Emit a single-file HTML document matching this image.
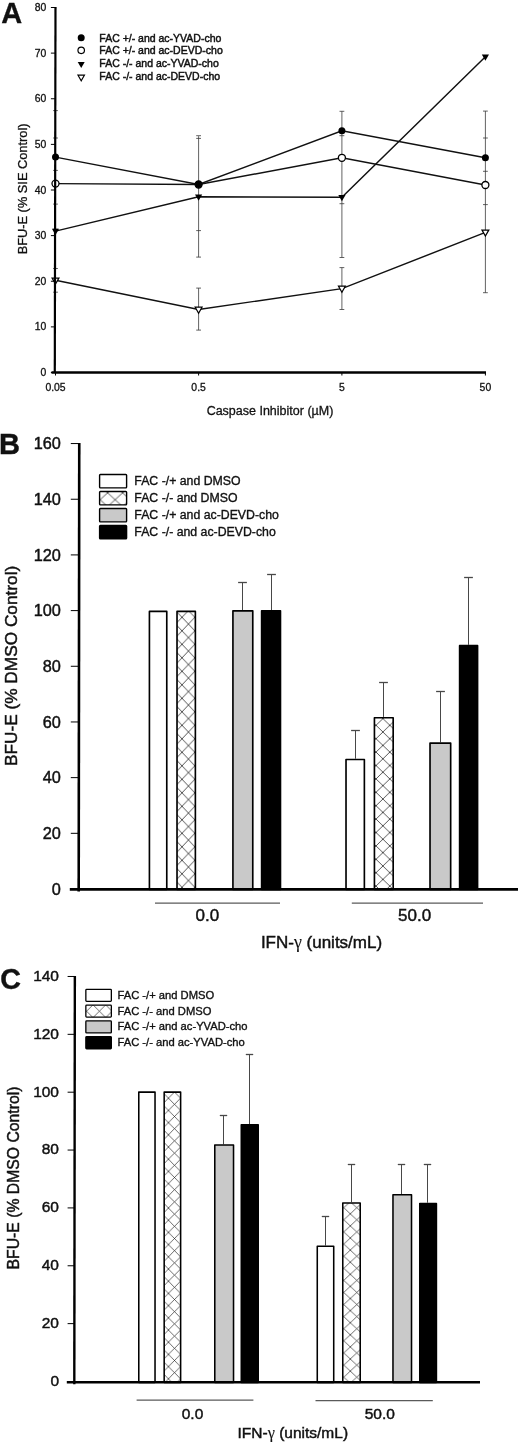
<!DOCTYPE html>
<html><head><meta charset="utf-8"><title>Figure</title>
<style>html,body{margin:0;padding:0;background:#fff}svg{display:block;will-change:transform}text{font-family:"Liberation Sans",sans-serif;fill:#111;stroke:#111;stroke-width:0.3px}.big text{stroke-width:0.45px}</style></head><body>
<svg width="520" height="1444" viewBox="0 0 520 1444">
<rect width="520" height="1444" fill="#fff"/>
<g id="panelA">
<text x="1.2" y="23.1" font-size="29" font-weight="bold" fill="#000" stroke="#000" stroke-width="0.4">A</text>
<path d="M55.5 292.2V110.6M53.1 110.6h4.8M53.1 138.0h4.8M53.1 170.4h4.8M53.1 204.1h4.8M53.1 229.2h4.8M53.1 268.5h4.8M53.1 292.2h4.8" stroke="#3a3a3a" stroke-width="0.8" fill="none"/>
<path d="M198.6 257.1V136.2M196.2 135.7h4.8M196.2 138.4h4.8M196.2 230.6h4.8M196.2 257.1h4.8" stroke="#3a3a3a" stroke-width="0.8" fill="none"/>
<path d="M198.6 330.1V288.1M196.2 288.1h4.8M196.2 330.1h4.8" stroke="#3a3a3a" stroke-width="0.8" fill="none"/>
<path d="M341.9 257.5V111.3M339.5 111.3h4.8M339.5 135.7h4.8M339.5 203.7h4.8M339.5 257.5h4.8" stroke="#3a3a3a" stroke-width="0.8" fill="none"/>
<path d="M341.9 309.5V267.6M339.5 267.6h4.8M339.5 309.5h4.8" stroke="#3a3a3a" stroke-width="0.8" fill="none"/>
<path d="M485.4 292.7V111.1M483.0 111.1h4.8M483.0 138.0h4.8M483.0 171.3h4.8M483.0 204.6h4.8M483.0 232.0h4.8M483.0 292.7h4.8" stroke="#3a3a3a" stroke-width="0.8" fill="none"/>
<path d="M51.5 372.5H486" stroke="#000" stroke-width="2.4" fill="none"/>
<path d="M50.9 372.50h4.6" stroke="#000" stroke-width="1"/>
<text x="46.3" y="376.10" font-size="10.4" text-anchor="end">0</text>
<path d="M50.9 326.88h4.6" stroke="#000" stroke-width="1"/>
<text x="46.3" y="330.48" font-size="10.4" text-anchor="end">10</text>
<path d="M50.9 281.25h4.6" stroke="#000" stroke-width="1"/>
<text x="46.3" y="284.85" font-size="10.4" text-anchor="end">20</text>
<path d="M50.9 235.62h4.6" stroke="#000" stroke-width="1"/>
<text x="46.3" y="239.22" font-size="10.4" text-anchor="end">30</text>
<path d="M50.9 190.00h4.6" stroke="#000" stroke-width="1"/>
<text x="46.3" y="193.60" font-size="10.4" text-anchor="end">40</text>
<path d="M50.9 144.38h4.6" stroke="#000" stroke-width="1"/>
<text x="46.3" y="147.97" font-size="10.4" text-anchor="end">50</text>
<path d="M50.9 98.75h4.6" stroke="#000" stroke-width="1"/>
<text x="46.3" y="102.35" font-size="10.4" text-anchor="end">60</text>
<path d="M50.9 53.12h4.6" stroke="#000" stroke-width="1"/>
<text x="46.3" y="56.73" font-size="10.4" text-anchor="end">70</text>
<path d="M50.9 7.50h4.6" stroke="#000" stroke-width="1"/>
<text x="46.3" y="11.10" font-size="10.4" text-anchor="end">80</text>
<path d="M55.5 372.5v3" stroke="#000" stroke-width="1"/>
<text x="55.5" y="390.7" font-size="10.4" text-anchor="middle">0.05</text>
<path d="M198.6 372.5v3" stroke="#000" stroke-width="1"/>
<text x="198.6" y="390.7" font-size="10.4" text-anchor="middle">0.5</text>
<path d="M341.9 372.5v3" stroke="#000" stroke-width="1"/>
<text x="341.9" y="390.7" font-size="10.4" text-anchor="middle">5</text>
<path d="M485.4 372.5v3" stroke="#000" stroke-width="1"/>
<text x="485.4" y="390.7" font-size="10.4" text-anchor="middle">50</text>
<text x="270" y="415" font-size="12.5" text-anchor="middle">Caspase Inhibitor (µM)</text>
<text transform="translate(26.8,188.9) rotate(-90)" font-size="12.8" text-anchor="middle">BFU-E (% SIE Control)</text>
<polyline points="55.5,157.1 198.6,184.5 341.9,130.7 485.4,157.8" stroke="#111" stroke-width="1.45" fill="none"/>
<polyline points="55.5,183.6 198.6,184.5 341.9,157.8 485.4,185.0" stroke="#111" stroke-width="1.45" fill="none"/>
<polyline points="55.5,231.1 198.6,196.8 341.9,197.3 485.4,56.8" stroke="#111" stroke-width="1.45" fill="none"/>
<polyline points="55.5,280.3 198.6,309.5 341.9,288.6 485.4,232.4" stroke="#111" stroke-width="1.45" fill="none"/>
<circle cx="55.5" cy="183.6" r="3.5" fill="#fff" stroke="#000" stroke-width="1.3"/>
<circle cx="198.6" cy="184.5" r="3.5" fill="#fff" stroke="#000" stroke-width="1.3"/>
<circle cx="341.9" cy="157.8" r="3.5" fill="#fff" stroke="#000" stroke-width="1.3"/>
<circle cx="485.4" cy="185.0" r="3.5" fill="#fff" stroke="#000" stroke-width="1.3"/>
<circle cx="55.5" cy="157.1" r="3.5" fill="#000"/>
<circle cx="198.6" cy="184.5" r="3.5" fill="#000"/>
<circle cx="341.9" cy="130.7" r="3.5" fill="#000"/>
<circle cx="485.4" cy="157.8" r="3.5" fill="#000"/>
<path d="M51.9 228.7h7.2l-3.6 6.4z" fill="#000"/>
<path d="M195.0 194.4h7.2l-3.6 6.4z" fill="#000"/>
<path d="M338.29999999999995 194.9h7.2l-3.6 6.4z" fill="#000"/>
<path d="M481.79999999999995 54.4h7.2l-3.6 6.4z" fill="#000"/>
<path d="M52.1 278.0h6.8l-3.4 6z" fill="#fff" stroke="#000" stroke-width="1.25"/>
<path d="M195.2 307.2h6.8l-3.4 6z" fill="#fff" stroke="#000" stroke-width="1.25"/>
<path d="M338.5 286.2h6.8l-3.4 6z" fill="#fff" stroke="#000" stroke-width="1.25"/>
<path d="M482.0 230.1h6.8l-3.4 6z" fill="#fff" stroke="#000" stroke-width="1.25"/>
<path d="M55.5 7.0L54.8 372.5" stroke="#000" stroke-width="2.2" fill="none"/>
<circle cx="81.2" cy="37.85" r="3.5" fill="#000"/>
<circle cx="81.2" cy="50.3" r="3.25" fill="#fff" stroke="#000" stroke-width="1.2"/>
<path d="M77.7 61.9h7l-3.5 6.2z" fill="#000"/>
<path d="M78.0 75.2h6.4l-3.2 5.6z" fill="#fff" stroke="#000" stroke-width="1.2"/>
<text x="99.3" y="41.6" font-size="10.5" style="stroke-width:0.45px">FAC +/- and ac-YVAD-cho</text>
<text x="99.3" y="54.3" font-size="10.5" style="stroke-width:0.45px">FAC +/- and ac-DEVD-cho</text>
<text x="99.3" y="67.0" font-size="10.5" style="stroke-width:0.45px">FAC -/- and ac-YVAD-cho</text>
<text x="99.3" y="80.2" font-size="10.5" style="stroke-width:0.45px">FAC -/- and ac-DEVD-cho</text>
</g>
<g id="pB" class="big">
<text x="-1.0" y="454.3" font-size="29" font-weight="bold" fill="#000" stroke="#000" stroke-width="0.4">B</text>
<path d="M242.50 610.0V582.5" stroke="#484848" stroke-width="1.05" fill="none"/>
<path d="M238.10 582.5h8.8" stroke="#484848" stroke-width="1.3" fill="none"/>
<path d="M271.50 610.0V574.5" stroke="#484848" stroke-width="1.05" fill="none"/>
<path d="M267.10 574.5h8.8" stroke="#484848" stroke-width="1.3" fill="none"/>
<path d="M355.50 758.7V730.5" stroke="#484848" stroke-width="1.05" fill="none"/>
<path d="M351.10 730.5h8.8" stroke="#484848" stroke-width="1.3" fill="none"/>
<path d="M383.50 716.9V682.5" stroke="#484848" stroke-width="1.05" fill="none"/>
<path d="M379.10 682.5h8.8" stroke="#484848" stroke-width="1.3" fill="none"/>
<path d="M440.50 742.3V691.5" stroke="#484848" stroke-width="1.05" fill="none"/>
<path d="M436.10 691.5h8.8" stroke="#484848" stroke-width="1.3" fill="none"/>
<path d="M468.50 644.8V577.5" stroke="#484848" stroke-width="1.05" fill="none"/>
<path d="M464.10 577.5h8.8" stroke="#484848" stroke-width="1.3" fill="none"/>
<rect x="149.42" y="611.43" width="17.35" height="277.97" fill="#fff" stroke="#000" stroke-width="1.65" stroke-linejoin="round"/>
<pattern id="pBh1" x="182.0" y="617.3" width="12.8" height="13.5" patternUnits="userSpaceOnUse"><rect width="12.8" height="13.5" fill="#fff"/><path d="M0 0L12.8 13.5M12.8 0L0 13.5" stroke="#1c1c1c" stroke-width="0.75" fill="none"/></pattern>
<rect x="177.02" y="611.43" width="18.35" height="277.97" fill="url(#pBh1)" stroke="#000" stroke-width="1.65" stroke-linejoin="round"/>
<rect x="232.92" y="610.87" width="19.85" height="278.53" fill="#c9c9c9" stroke="#000" stroke-width="1.65" stroke-linejoin="round"/>
<rect x="261.62" y="610.87" width="18.85" height="278.53" fill="#000" stroke="#000" stroke-width="1.65" stroke-linejoin="round"/>
<rect x="346.02" y="759.53" width="18.35" height="129.87" fill="#fff" stroke="#000" stroke-width="1.65" stroke-linejoin="round"/>
<pattern id="pBh2" x="382.9" y="732.0" width="13.8" height="13.4" patternUnits="userSpaceOnUse"><rect width="13.8" height="13.4" fill="#fff"/><path d="M0 0L13.8 13.4M13.8 0L0 13.4" stroke="#1c1c1c" stroke-width="0.75" fill="none"/></pattern>
<rect x="374.43" y="717.77" width="18.75" height="171.63" fill="url(#pBh2)" stroke="#000" stroke-width="1.65" stroke-linejoin="round"/>
<rect x="430.02" y="743.11" width="20.65" height="146.29" fill="#c9c9c9" stroke="#000" stroke-width="1.65" stroke-linejoin="round"/>
<rect x="459.62" y="645.67" width="17.95" height="243.73" fill="#000" stroke="#000" stroke-width="1.65" stroke-linejoin="round"/>
<path d="M79.25 443.1L78.7 891.4" stroke="#000" stroke-width="2.6" fill="none"/>
<path d="M69.8 889.4H518" stroke="#000" stroke-width="2.9" fill="none"/>
<path d="M70.8 889.00h8.2" stroke="#000" stroke-width="1"/>
<text x="60.8" y="894.80" font-size="16.3" text-anchor="end">0</text>
<path d="M70.8 833.32h8.2" stroke="#000" stroke-width="1"/>
<text x="60.8" y="839.12" font-size="16.3" text-anchor="end">20</text>
<path d="M70.8 777.64h8.2" stroke="#000" stroke-width="1"/>
<text x="60.8" y="783.44" font-size="16.3" text-anchor="end">40</text>
<path d="M70.8 721.96h8.2" stroke="#000" stroke-width="1"/>
<text x="60.8" y="727.76" font-size="16.3" text-anchor="end">60</text>
<path d="M70.8 666.28h8.2" stroke="#000" stroke-width="1"/>
<text x="60.8" y="672.08" font-size="16.3" text-anchor="end">80</text>
<path d="M70.8 610.60h8.2" stroke="#000" stroke-width="1"/>
<text x="60.8" y="616.40" font-size="16.3" text-anchor="end">100</text>
<path d="M70.8 554.92h8.2" stroke="#000" stroke-width="1"/>
<text x="60.8" y="560.72" font-size="16.3" text-anchor="end">120</text>
<path d="M70.8 499.24h8.2" stroke="#000" stroke-width="1"/>
<text x="60.8" y="505.04" font-size="16.3" text-anchor="end">140</text>
<path d="M70.8 443.56h8.2" stroke="#000" stroke-width="1"/>
<text x="60.8" y="449.36" font-size="16.3" text-anchor="end">160</text>
<path d="M155 903.1H280" stroke="#5a5a5a" stroke-width="1.25"/>
<text x="207.3" y="921.3" font-size="17" text-anchor="middle">0.0</text>
<path d="M351.8 903.1H483" stroke="#5a5a5a" stroke-width="1.25"/>
<text x="414.6" y="921.3" font-size="17" text-anchor="middle">50.0</text>
<text x="321.5" y="947.8" font-size="17" text-anchor="middle">IFN-<tspan font-family="Liberation Serif" font-size="17.9" style="stroke-width:0.1px">γ</tspan> (units/mL)</text>
<text transform="translate(16.9,665.9) rotate(-90)" font-size="17.25" text-anchor="middle">BFU-E (% DMSO Control)</text>
<rect x="99.60" y="474.50" width="27.00" height="13.40" rx="0.8" fill="#fff" stroke="#000" stroke-width="1.4"/>
<text x="134.3" y="484.7" font-size="12.3" style="stroke-width:0.35px">FAC -/+ and DMSO</text>
<pattern id="pBlg" x="107.6" y="492.8" width="15.0" height="13.8" patternUnits="userSpaceOnUse"><rect width="15.0" height="13.8" fill="#fff"/><path d="M0 0L15.0 13.8M15.0 0L0 13.8" stroke="#1c1c1c" stroke-width="0.75" fill="none"/></pattern>
<rect x="99.60" y="491.50" width="27.00" height="13.40" rx="0.8" fill="url(#pBlg)" stroke="#000" stroke-width="1.4"/>
<text x="134.3" y="501.7" font-size="12.3" style="stroke-width:0.35px">FAC -/- and DMSO</text>
<rect x="99.60" y="508.50" width="27.00" height="13.40" rx="0.8" fill="#c9c9c9" stroke="#000" stroke-width="1.4"/>
<text x="134.3" y="518.7" font-size="12.3" style="stroke-width:0.35px">FAC -/+ and ac-DEVD-cho</text>
<rect x="99.60" y="525.50" width="27.00" height="13.40" rx="0.8" fill="#000" stroke="#000" stroke-width="1.4"/>
<text x="134.3" y="535.7" font-size="12.3" style="stroke-width:0.35px">FAC -/- and ac-DEVD-cho</text>
</g>
<g id="pC" class="big">
<text x="0.3" y="988.6" font-size="28.6" font-weight="bold" fill="#000" stroke="#000" stroke-width="0.4">C</text>
<path d="M223.50 1144.3V1115.5" stroke="#484848" stroke-width="1.05" fill="none"/>
<path d="M219.80 1115.5h7.4" stroke="#484848" stroke-width="1.3" fill="none"/>
<path d="M249.50 1124.0V1054.5" stroke="#484848" stroke-width="1.05" fill="none"/>
<path d="M245.80 1054.5h7.4" stroke="#484848" stroke-width="1.3" fill="none"/>
<path d="M325.50 1245.5V1216.5" stroke="#484848" stroke-width="1.05" fill="none"/>
<path d="M321.80 1216.5h7.4" stroke="#484848" stroke-width="1.3" fill="none"/>
<path d="M351.50 1202.1V1164.5" stroke="#484848" stroke-width="1.05" fill="none"/>
<path d="M347.80 1164.5h7.4" stroke="#484848" stroke-width="1.3" fill="none"/>
<path d="M401.50 1194.0V1164.5" stroke="#484848" stroke-width="1.05" fill="none"/>
<path d="M397.80 1164.5h7.4" stroke="#484848" stroke-width="1.3" fill="none"/>
<path d="M427.50 1202.7V1164.5" stroke="#484848" stroke-width="1.05" fill="none"/>
<path d="M423.80 1164.5h7.4" stroke="#484848" stroke-width="1.3" fill="none"/>
<rect x="138.78" y="1092.11" width="16.25" height="290.24" fill="#fff" stroke="#000" stroke-width="1.55" stroke-linejoin="round"/>
<pattern id="pCh1" x="168.44" y="1098.2" width="12.1" height="12.2" patternUnits="userSpaceOnUse"><rect width="12.1" height="12.2" fill="#fff"/><path d="M0 0L12.1 12.2M12.1 0L0 12.2" stroke="#1c1c1c" stroke-width="0.66" fill="none"/></pattern>
<rect x="164.18" y="1092.11" width="16.45" height="290.24" fill="url(#pCh1)" stroke="#000" stroke-width="1.55" stroke-linejoin="round"/>
<rect x="214.78" y="1145.05" width="18.75" height="237.30" fill="#c9c9c9" stroke="#000" stroke-width="1.55" stroke-linejoin="round"/>
<rect x="241.28" y="1124.80" width="16.95" height="257.55" fill="#000" stroke="#000" stroke-width="1.55" stroke-linejoin="round"/>
<rect x="317.27" y="1246.30" width="16.45" height="136.05" fill="#fff" stroke="#000" stroke-width="1.55" stroke-linejoin="round"/>
<pattern id="pCh2" x="350.3" y="1213.8" width="13.0" height="12.1" patternUnits="userSpaceOnUse"><rect width="13.0" height="12.1" fill="#fff"/><path d="M0 0L13.0 12.1M13.0 0L0 12.1" stroke="#1c1c1c" stroke-width="0.66" fill="none"/></pattern>
<rect x="342.77" y="1202.91" width="17.45" height="179.44" fill="url(#pCh2)" stroke="#000" stroke-width="1.55" stroke-linejoin="round"/>
<rect x="392.97" y="1194.81" width="18.55" height="187.54" fill="#c9c9c9" stroke="#000" stroke-width="1.55" stroke-linejoin="round"/>
<rect x="419.77" y="1203.49" width="16.65" height="178.86" fill="#000" stroke="#000" stroke-width="1.55" stroke-linejoin="round"/>
<path d="M74.85 976.0L74.3 1384.35" stroke="#000" stroke-width="2.4" fill="none"/>
<path d="M66.8 1382.35H480" stroke="#000" stroke-width="2.5" fill="none"/>
<path d="M67.6 1381.50h7" stroke="#000" stroke-width="1"/>
<text x="58.99999999999999" y="1385.90" font-size="15.5" text-anchor="end">0</text>
<path d="M67.6 1323.64h7" stroke="#000" stroke-width="1"/>
<text x="58.99999999999999" y="1328.04" font-size="15.5" text-anchor="end">20</text>
<path d="M67.6 1265.78h7" stroke="#000" stroke-width="1"/>
<text x="58.99999999999999" y="1270.18" font-size="15.5" text-anchor="end">40</text>
<path d="M67.6 1207.92h7" stroke="#000" stroke-width="1"/>
<text x="58.99999999999999" y="1212.32" font-size="15.5" text-anchor="end">60</text>
<path d="M67.6 1150.06h7" stroke="#000" stroke-width="1"/>
<text x="58.99999999999999" y="1154.46" font-size="15.5" text-anchor="end">80</text>
<path d="M67.6 1092.20h7" stroke="#000" stroke-width="1"/>
<text x="58.99999999999999" y="1096.60" font-size="15.5" text-anchor="end">100</text>
<path d="M67.6 1034.34h7" stroke="#000" stroke-width="1"/>
<text x="58.99999999999999" y="1038.74" font-size="15.5" text-anchor="end">120</text>
<path d="M67.6 976.48h7" stroke="#000" stroke-width="1"/>
<text x="58.99999999999999" y="980.88" font-size="15.5" text-anchor="end">140</text>
<path d="M136.6 1400.0H253.4" stroke="#5a5a5a" stroke-width="1.25"/>
<text x="192.5" y="1418.8" font-size="15.5" text-anchor="middle">0.0</text>
<path d="M315.5 1400.6H432.8" stroke="#5a5a5a" stroke-width="1.25"/>
<text x="379.8" y="1418.7" font-size="15.5" text-anchor="middle">50.0</text>
<text x="292.8" y="1438.3" font-size="15.5" text-anchor="middle">IFN-<tspan font-family="Liberation Serif" font-size="16.3" style="stroke-width:0.1px">γ</tspan> (units/mL)</text>
<text transform="translate(19.0,1178) rotate(-90)" font-size="15.75" text-anchor="middle">BFU-E (% DMSO Control)</text>
<rect x="85.85" y="989.35" width="25.50" height="12.00" rx="0.8" fill="#fff" stroke="#000" stroke-width="1.3"/>
<text x="117.5" y="998.7" font-size="11.2" style="stroke-width:0.35px">FAC -/+ and DMSO</text>
<pattern id="pClg" x="93.0" y="1004.8" width="12.7" height="12.8" patternUnits="userSpaceOnUse"><rect width="12.7" height="12.8" fill="#fff"/><path d="M0 0L12.7 12.8M12.7 0L0 12.8" stroke="#1c1c1c" stroke-width="0.66" fill="none"/></pattern>
<rect x="85.85" y="1005.15" width="25.50" height="12.00" rx="0.8" fill="url(#pClg)" stroke="#000" stroke-width="1.3"/>
<text x="117.5" y="1014.5" font-size="11.2" style="stroke-width:0.35px">FAC -/- and DMSO</text>
<rect x="85.85" y="1020.95" width="25.50" height="12.00" rx="0.8" fill="#c9c9c9" stroke="#000" stroke-width="1.3"/>
<text x="117.5" y="1030.3" font-size="11.2" style="stroke-width:0.35px">FAC -/+ and ac-YVAD-cho</text>
<rect x="85.85" y="1036.75" width="25.50" height="12.00" rx="0.8" fill="#000" stroke="#000" stroke-width="1.3"/>
<text x="117.5" y="1046.1" font-size="11.2" style="stroke-width:0.35px">FAC -/- and ac-YVAD-cho</text>
</g>
</svg></body></html>
